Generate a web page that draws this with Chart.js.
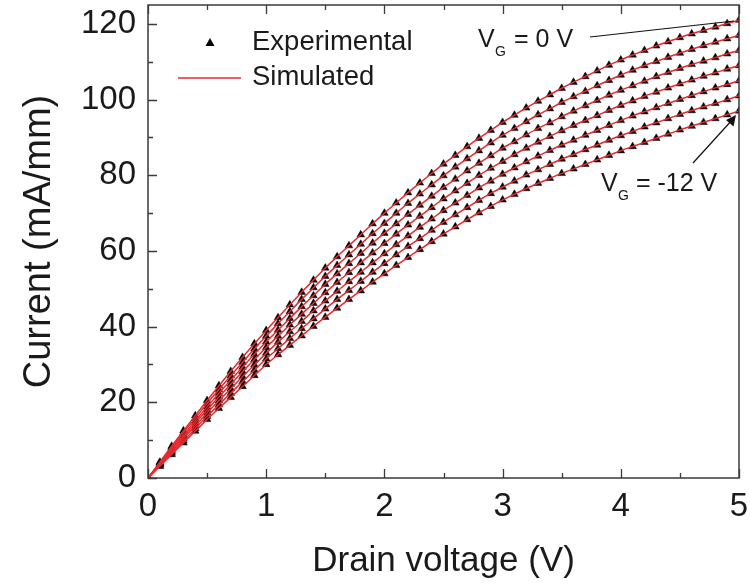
<!DOCTYPE html>
<html>
<head>
<meta charset="utf-8">
<script src="https://cdn.jsdelivr.net/npm/chart.js@4.4.0/dist/chart.umd.min.js"></script>
<style>
  html, body { margin: 0; padding: 0; background: #fff; }
  #wrap { width: 750px; height: 586px; position: relative; }
</style>
</head>
<body>
<div id="wrap"><canvas id="ivChart" width="750" height="586"></canvas></div>
<script>
// drain voltage sweep (V)
const drainV = [0, 0.1, 0.2, 0.3, 0.4, 0.5, 0.6, 0.7, 0.8, 0.9,
  1.0, 1.1, 1.2, 1.3, 1.4, 1.5, 1.6, 1.7, 1.8, 1.9,
  2.0, 2.1, 2.2, 2.3, 2.4, 2.5, 2.6, 2.7, 2.8, 2.9,
  3.0, 3.1, 3.2, 3.3, 3.4, 3.5, 3.6, 3.7, 3.8, 3.9,
  4.0, 4.1, 4.2, 4.3, 4.4, 4.5, 4.6, 4.7, 4.8, 4.9, 5.0];

// gate voltages of the curves (V)
const gateV = [0, -2, -4, -6, -8, -10, -12];

// current (mA/mm) per gate voltage
const vg0 = [0, 4.2, 8.4, 12.5, 16.5, 20.5, 24.4, 28.2, 31.9, 35.5,
  39.0, 42.4, 45.8, 49.1, 52.3, 55.5, 58.5, 61.4, 64.3, 67.2,
  70.0, 72.7, 75.4, 78.0, 80.5, 83.0, 85.3, 87.6, 89.8, 91.9,
  94.0, 95.9, 97.8, 99.6, 101.3, 103.0, 104.6, 106.1, 107.6, 109.1,
  110.5, 111.8, 113.0, 114.2, 115.3, 116.4, 117.4, 118.3, 119.2, 120.1, 121.0];
const vgm2 = [0, 4.0, 8.0, 12.0, 15.8, 19.7, 23.4, 27.0, 30.6, 34.1,
  37.5, 40.8, 44.0, 47.2, 50.3, 53.3, 56.2, 59.0, 61.8, 64.6,
  67.3, 70.0, 72.6, 75.1, 77.5, 79.9, 82.2, 84.4, 86.5, 88.6,
  90.6, 92.4, 94.2, 96.0, 97.6, 99.3, 100.8, 102.2, 103.7, 105.1,
  106.5, 107.8, 109.0, 110.1, 111.2, 112.3, 113.3, 114.3, 115.2, 116.1, 117.0];
const vgm4 = [0, 3.8, 7.7, 11.4, 15.1, 18.8, 22.4, 25.9, 29.3, 32.7,
  36.0, 39.1, 42.2, 45.3, 48.2, 51.2, 54.0, 56.7, 59.4, 62.1,
  64.7, 67.2, 69.7, 72.1, 74.5, 76.8, 79.0, 81.2, 83.2, 85.2,
  87.2, 88.9, 90.7, 92.4, 93.9, 95.5, 97.0, 98.4, 99.8, 101.2,
  102.5, 103.7, 104.9, 106.1, 107.2, 108.3, 109.3, 110.2, 111.1, 112.1, 113.0];
const vgm6 = [0, 3.7, 7.3, 10.9, 14.5, 18.0, 21.4, 24.8, 28.1, 31.3,
  34.5, 37.5, 40.5, 43.3, 46.2, 49.0, 51.7, 54.3, 56.9, 59.5,
  62.0, 64.5, 66.9, 69.2, 71.5, 73.8, 75.9, 77.9, 80.0, 81.9,
  83.7, 85.5, 87.2, 88.8, 90.3, 91.8, 93.2, 94.5, 95.8, 97.2,
  98.5, 99.7, 100.9, 102.0, 103.1, 104.2, 105.2, 106.2, 107.1, 108.1, 109.0];
const vgm8 = [0, 3.5, 6.9, 10.4, 13.8, 17.2, 20.4, 23.6, 26.8, 29.9,
  33.0, 35.9, 38.7, 41.4, 44.2, 46.8, 49.4, 51.9, 54.4, 56.9,
  59.3, 61.7, 64.0, 66.3, 68.5, 70.7, 72.7, 74.7, 76.7, 78.5,
  80.3, 82.0, 83.6, 85.1, 86.6, 88.0, 89.3, 90.6, 91.9, 93.2,
  94.5, 95.7, 96.8, 97.9, 99.0, 100.1, 101.1, 102.1, 103.1, 104.0, 105.0];
const vgm10 = [0, 3.3, 6.6, 9.8, 13.1, 16.3, 19.4, 22.4, 25.5, 28.5,
  31.5, 34.2, 36.9, 39.5, 42.1, 44.7, 47.2, 49.6, 52.0, 54.4,
  56.7, 59.0, 61.2, 63.3, 65.5, 67.6, 69.6, 71.5, 73.4, 75.2,
  76.9, 78.5, 80.1, 81.5, 82.9, 84.3, 85.5, 86.8, 88.0, 89.3,
  90.5, 91.6, 92.8, 93.9, 95.0, 96.1, 97.1, 98.1, 99.0, 100.0, 101.0];
const vgm12 = [0, 3.1, 6.2, 9.3, 12.4, 15.5, 18.4, 21.3, 24.2, 27.1,
  30.0, 32.6, 35.1, 37.6, 40.1, 42.5, 44.9, 47.2, 49.5, 51.8,
  54.0, 56.2, 58.3, 60.4, 62.5, 64.5, 66.4, 68.3, 70.1, 71.8,
  73.5, 75.0, 76.5, 77.9, 79.2, 80.5, 81.7, 82.9, 84.1, 85.3,
  86.5, 87.6, 88.7, 89.8, 90.9, 92.0, 93.0, 94.0, 95.0, 96.0, 97.0];

const curves = [vg0, vgm2, vgm4, vgm6, vgm8, vgm10, vgm12];

const xTicks = [0, 1, 2, 3, 4, 5];
const yTicks = [0, 20, 40, 60, 80, 100, 120];

const FONT = "'Liberation Sans', Arial, sans-serif";
const TXT = '#1a1a1a';
const RED = '#e52a2f';

function toPoints(ys) {
  return drainV.map((x, i) => ({ x: x, y: ys[i] }));
}

const datasets = [];
curves.forEach((ys, k) => {
  datasets.push({
    label: 'Simulated VG=' + gateV[k],
    data: toPoints(ys),
    showLine: true,
    borderColor: RED,
    borderWidth: 1.5,
    pointRadius: 0,
    cubicInterpolationMode: 'monotone',
    order: 1
  });
  datasets.push({
    label: 'Experimental VG=' + gateV[k],
    data: toPoints(ys),
    showLine: false,
    pointStyle: 'triangle',
    pointRadius: 4.4,
    pointBackgroundColor: '#000',
    pointBorderColor: '#000',
    pointBorderWidth: 0.5,
    order: 2
  });
});

// frame, inward ticks, legend and labels
const decor = {
  id: 'decor',
  afterDraw(chart) {
    const ctx = chart.ctx;
    const a = chart.chartArea;
    const xs = chart.scales.x, ys = chart.scales.y;
    ctx.save();
    ctx.strokeStyle = '#3a3a3a';
    ctx.lineWidth = 1.5;
    ctx.strokeRect(a.left, a.top, a.right - a.left, a.bottom - a.top);

    ctx.lineWidth = 1.3;
    ctx.beginPath();
    for (let v = 0; v <= 5.001; v += 0.5) {
      const px = Math.round(xs.getPixelForValue(v)) + 0.5;
      const len = Math.abs(v - Math.round(v)) < 0.01 ? 9 : 5;
      ctx.moveTo(px, a.bottom); ctx.lineTo(px, a.bottom - len);
      ctx.moveTo(px, a.top); ctx.lineTo(px, a.top + len);
    }
    for (let v = 0; v <= 120; v += 10) {
      const py = Math.round(ys.getPixelForValue(v)) + 0.5;
      const len = v % 20 === 0 ? 9 : 5;
      ctx.moveTo(a.left, py); ctx.lineTo(a.left + len, py);
    }
    ctx.stroke();

    // legend
    ctx.fillStyle = '#000';
    ctx.beginPath();
    ctx.moveTo(210, 38); ctx.lineTo(214.5, 46); ctx.lineTo(205.5, 46);
    ctx.closePath(); ctx.fill();
    ctx.strokeStyle = RED;
    ctx.lineWidth = 1.5;
    ctx.beginPath(); ctx.moveTo(178, 78); ctx.lineTo(241, 78); ctx.stroke();
    ctx.fillStyle = TXT;
    ctx.font = '27.5px ' + FONT;
    ctx.textBaseline = 'middle';
    ctx.textAlign = 'left';
    ctx.fillText('Experimental', 252, 42);
    ctx.fillText('Simulated', 252, 77);

    // gate voltage labels
    ctx.font = '25px ' + FONT;
    ctx.fillText('V', 478, 40);
    ctx.fillText('= 0 V', 514, 40);
    ctx.fillText('V', 601, 184);
    ctx.fillText('= -12 V', 636, 184);
    ctx.font = '14px ' + FONT;
    ctx.fillText('G', 495, 52);
    ctx.fillText('G', 618, 196);

    ctx.strokeStyle = '#111';
    ctx.lineWidth = 1.2;
    ctx.beginPath(); ctx.moveTo(590, 37); ctx.lineTo(734, 21); ctx.stroke();
    ctx.beginPath(); ctx.moveTo(693, 163); ctx.lineTo(733, 119); ctx.stroke();
    ctx.fillStyle = '#111';
    ctx.beginPath();
    ctx.moveTo(736, 115); ctx.lineTo(733.5, 126.5); ctx.lineTo(726, 120);
    ctx.closePath(); ctx.fill();
    ctx.restore();
  }
};

new Chart(document.getElementById('ivChart'), {
  type: 'scatter',
  data: { datasets: datasets },
  options: {
    responsive: false,
    animation: false,
    devicePixelRatio: 1,
    layout: { padding: { top: 5, right: 11, left: 0, bottom: 0 } },
    plugins: { legend: { display: false }, tooltip: { enabled: false } },
    scales: {
      x: {
        type: 'linear',
        min: 0, max: 5,
        afterFit: (s) => { s.height = 108; s.paddingLeft = 0; s.paddingRight = 0; },
        afterBuildTicks: (s) => { s.ticks = xTicks.map(v => ({ value: v })); },
        grid: { display: false, drawTicks: false },
        border: { display: false },
        ticks: { color: TXT, font: { family: FONT, size: 33 }, padding: 9, maxRotation: 0 },
        title: { display: true, text: 'Drain voltage (V)', color: TXT,
                 font: { family: FONT, size: 35 }, padding: { top: 10 } }
      },
      y: {
        type: 'linear',
        min: 0, max: 125,
        afterFit: (s) => { s.width = 148; s.paddingTop = 0; s.paddingBottom = 0; },
        afterBuildTicks: (s) => { s.ticks = yTicks.map(v => ({ value: v })); },
        grid: { display: false, drawTicks: false },
        border: { display: false },
        ticks: { color: TXT, font: { family: FONT, size: 33 }, padding: 12 },
        title: { display: true, text: 'Current (mA/mm)', color: TXT,
                 font: { family: FONT, size: 38 }, padding: { top: 17 } }
      }
    }
  },
  plugins: [decor]
});
</script>
</body>
</html>
